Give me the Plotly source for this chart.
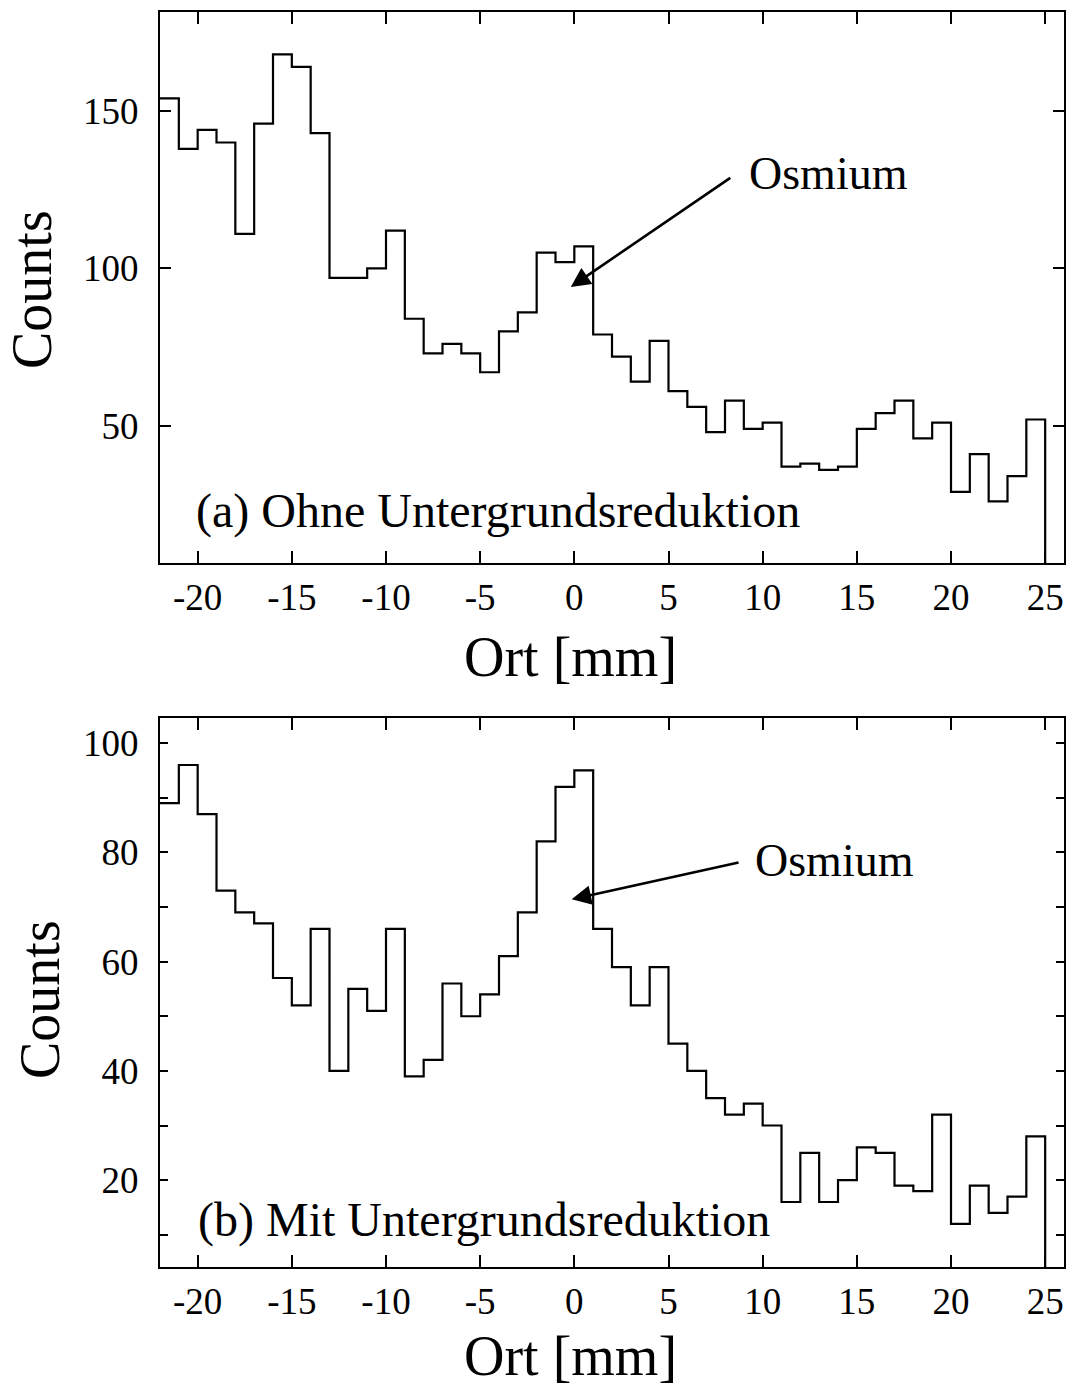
import plotly.graph_objects as go

# ---------------- data ----------------
bin_left_edges = list(range(-22, 25))      # 1 mm bins from -22 to 25 mm
bin_right_end = 25

counts_a = [154, 138, 144, 140, 111, 146, 168, 164, 143, 97,
            97, 100, 112, 84, 73, 76, 73, 67, 80, 86,
            105, 102, 107, 79, 72, 64, 77, 61, 56, 48,
            58, 49, 51, 37, 38, 36, 37, 49, 54, 58,
            46, 51, 29, 41, 26, 34, 52]

counts_b = [89, 96, 87, 73, 69, 67, 57, 52, 66, 40,
            55, 51, 66, 39, 42, 56, 50, 54, 61, 69,
            82, 92, 95, 66, 59, 52, 59, 45, 40, 35,
            32, 34, 30, 16, 25, 16, 20, 26, 25, 19,
            18, 32, 12, 19, 14, 17, 28]

x_tickvals = [-20, -15, -10, -5, 0, 5, 10, 15, 20, 25]
x_ticktext = ["-20", "-15", "-10", "-5", "0", "5", "10", "15", "20", "25"]
ya_tickvals = [50, 100, 150]
ya_ticktext = ["50", "100", "150"]
yb_tickvals = [10, 20, 30, 40, 50, 60, 70, 80, 90, 100]
yb_ticktext = ["", "20", "", "40", "", "60", "", "80", "", "100"]

label_a = "(a) Ohne Untergrundsreduktion"
label_b = "(b) Mit Untergrundsreduktion"
x_title = "Ort [mm]"
y_title = "Counts"
peak_label = "Osmium"

# ---------------- figure ----------------
FONT = "Liberation Serif"


def step_xy(values):
    xs = list(bin_left_edges) + [bin_right_end, bin_right_end]
    ys = list(values) + [values[-1], 0]
    return xs, ys


fig = go.Figure()
xa, ya = step_xy(counts_a)
xb, yb = step_xy(counts_b)
fig.add_trace(go.Scatter(x=xa, y=ya, mode="lines", line=dict(shape="hv", color="black", width=2.2),
                         xaxis="x", yaxis="y", showlegend=False))
fig.add_trace(go.Scatter(x=xb, y=yb, mode="lines", line=dict(shape="hv", color="black", width=2.2),
                         xaxis="x2", yaxis="y2", showlegend=False))

xdom = [160 / 1072, 1064 / 1072]
common_x = dict(range=[-22, 26], tickvals=x_tickvals, ticktext=x_ticktext, ticks="inside",
                ticklen=12, tickwidth=2, tickcolor="black", showline=True, linecolor="black",
                linewidth=2.2, mirror="ticks", showgrid=False, zeroline=False,
                tickfont=dict(family=FONT, size=37, color="black"), domain=xdom)
common_y = dict(ticks="inside", tickwidth=2, tickcolor="black", showline=True, linecolor="black",
                linewidth=2.2, mirror="ticks", showgrid=False, zeroline=False,
                tickfont=dict(family=FONT, size=37, color="black"), ticklabelstandoff=12)

fig.update_layout(
    width=1072, height=1387,
    margin=dict(l=0, r=0, t=0, b=0),
    paper_bgcolor="white", plot_bgcolor="white",
    xaxis=dict(**common_x, anchor="y"),
    yaxis=dict(**common_y, range=[6.4, 181.4], tickvals=ya_tickvals, ticktext=ya_ticktext,
               ticklen=11, domain=[1 - 563 / 1387, 1 - 12.2 / 1387], anchor="x"),
    xaxis2=dict(**common_x, anchor="y2"),
    yaxis2=dict(**common_y, range=[4.1, 104.6], tickvals=yb_tickvals, ticktext=yb_ticktext,
                ticklen=8, domain=[1 - 1267 / 1387, 1 - 718 / 1387], anchor="x2"),
)

ann = []
# axis titles
for ycen in (657, 1356):
    ann.append(dict(text=x_title, xref="paper", yref="paper", x=570 / 1072, y=1 - ycen / 1387,
                    xanchor="center", yanchor="middle", showarrow=False,
                    font=dict(family=FONT, size=56, color="black")))
for xcen, ycen in ((32, 290), (40, 1000)):
    ann.append(dict(text=y_title, xref="paper", yref="paper", x=xcen / 1072, y=1 - ycen / 1387,
                    xanchor="center", yanchor="middle", showarrow=False, textangle=-90,
                    font=dict(family=FONT, size=56, color="black")))
# panel labels
ann.append(dict(text=label_a, xref="x", yref="y", x=-20.2, y=23.0, xanchor="left", yanchor="middle",
                showarrow=False, font=dict(family=FONT, size=48, color="black")))
ann.append(dict(text=label_b, xref="x2", yref="y2", x=-20.1, y=12.7, xanchor="left", yanchor="middle",
                showarrow=False, font=dict(family=FONT, size=48, color="black")))
# Osmium labels
ann.append(dict(text=peak_label, xref="x", yref="y", x=13.47, y=130.3, xanchor="center", yanchor="middle",
                showarrow=False, font=dict(family=FONT, size=46, color="black")))
ann.append(dict(text=peak_label, xref="x2", yref="y2", x=13.84, y=78.6, xanchor="center", yanchor="middle",
                showarrow=False, font=dict(family=FONT, size=46, color="black")))
# arrows
ann.append(dict(text="", xref="x", yref="y", axref="x", ayref="y", x=-0.19, y=94.1, ax=8.36, ay=129.1,
                showarrow=True, arrowhead=2, arrowsize=1.5, arrowwidth=2.6, arrowcolor="black"))
ann.append(dict(text="", xref="x2", yref="y2", axref="x2", ayref="y2", x=-0.14, y=71.4, ax=8.80, ay=78.2,
                showarrow=True, arrowhead=2, arrowsize=1.5, arrowwidth=2.6, arrowcolor="black"))
fig.update_layout(annotations=ann)

fig.write_html("out.html")
